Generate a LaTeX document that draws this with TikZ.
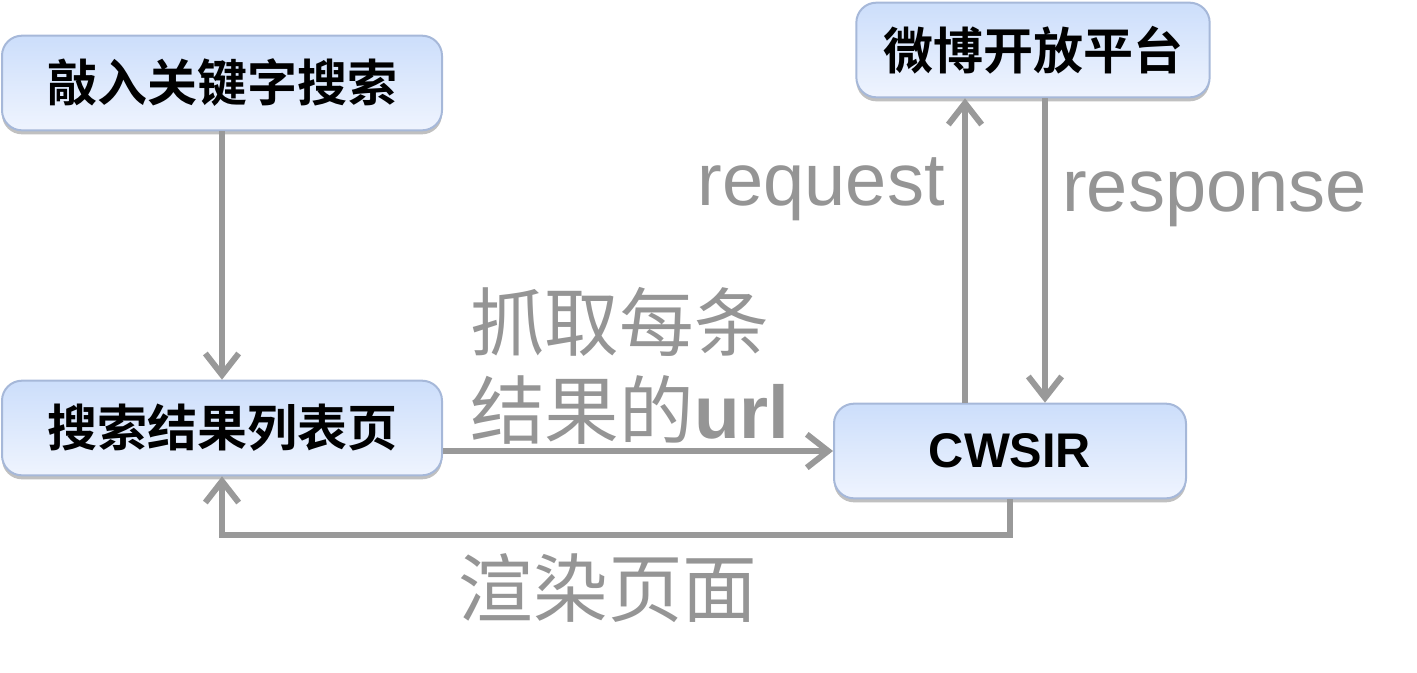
\documentclass[tikz,border=0pt]{standalone}
\usepackage{fontspec}
\setmainfont{Liberation Sans}
\newfontfamily\cjk{Noto Sans CJK SC}
\newfontfamily\cjkb{Noto Sans CJK SC Bold}
\usetikzlibrary{arrows.meta,shadows}
\definecolor{boxtop}{HTML}{CCDEFB}
\definecolor{boxbot}{HTML}{EFF4FE}
\definecolor{boxline}{HTML}{A6B8D9}
\definecolor{linegray}{HTML}{999999}
\definecolor{txtgray}{HTML}{959595}
\begin{document}
\begin{tikzpicture}[x=0.75pt,y=-0.75pt,
  box/.style={draw=boxline,line width=1.5pt,rounded corners=15pt,top color=boxtop,bottom color=boxbot,
    drop shadow={shadow xshift=0pt,shadow yshift=-3pt,opacity=0.45,fill=black!55},
    minimum height=71pt,inner sep=0pt},
  cjkbold/.style={font=\cjkb\fontsize{37.5}{45}\selectfont},
  conn/.style={draw=linegray,line width=4.5pt,-{Straight Barb[length=16pt,width=25pt]}},
  lbl/.style={text=txtgray,inner sep=0pt}]
\useasboundingbox (0,0) rectangle (1417,672);
\node[box,cjkbold,minimum width=330pt] (kw) at (222,83) {敲入关键字搜索};
\node[box,cjkbold,minimum width=330pt] (res) at (222,428) {搜索结果列表页};
\node[box,cjkbold,minimum width=265pt] (wb) at (1033,50) {微博开放平台};
\node[box,minimum width=264pt,font=\bfseries\fontsize{36.5}{44}\selectfont] (cw) at (1010,451) {CWSIR};
\draw[conn] (kw.south) -- (res.north);
\draw[conn] (res.east |- cw.west) -- (cw.west);
\draw[conn] (cw.north -| 965,0) -- (wb.south -| 965,0);
\draw[conn] (wb.south -| 1045,0) -- (cw.north -| 1045,0);
\coordinate (c1) at (1010,535);
\coordinate (c2) at (222,535);
\draw[conn,rounded corners=0pt] (cw.south) -- (c1) -- (c2) -- (res.south);
\node[lbl,anchor=base east,font=\fontsize{55.5}{60}\selectfont] (rq) at (945,205) {request};
\node[lbl,anchor=base west,font=\fontsize{55.5}{60}\selectfont] (rs) at (1062,211) {response};
\node[lbl,anchor=west,align=left,font=\cjk\fontsize{56}{66}\selectfont] (grab) at (470,366) {抓取每条\\结果的\textbf{\fontspec{Liberation Sans}url}};
\node[lbl,font=\cjk\fontsize{56}{66}\selectfont] (render) at (608,588) {渲染页面};
\end{tikzpicture}
\end{document}
